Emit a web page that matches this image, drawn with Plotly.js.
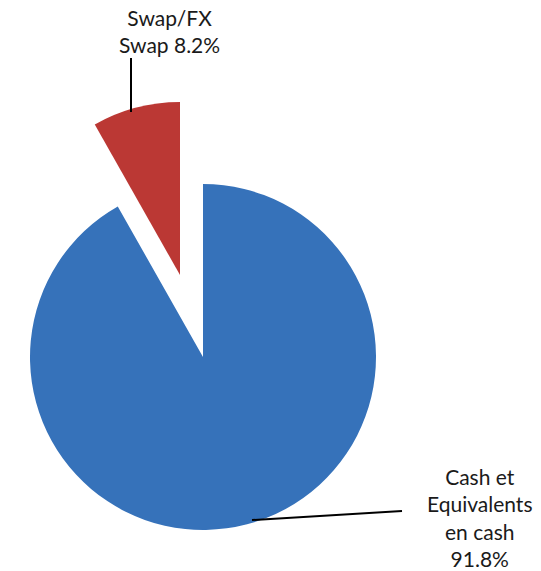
<!DOCTYPE html>
<html><head><meta charset="utf-8">
<script src="https://cdn.plot.ly/plotly-3.0.1.min.js"></script>
<style>html,body{margin:0;padding:0;background:#fff}#chart{width:541px;height:571px}</style>
</head><body><div id="chart"></div>
<script>
const categories = ["Cash et Equivalents en cash", "Swap/FX Swap"];
const values = [91.8, 8.2];
const labelLines = [["Cash et", "Equivalents", "en cash"], ["Swap/FX", "Swap"]];
const colors = ["#3672BA", "#BB3834"];

const W = 541, H = 571;
function dom(cx, cy, r) {
  return { x: [(cx - r) / W, (cx + r) / W], y: [(H - cy - r) / H, (H - cy + r) / H] };
}
const R = 173;
const base = {
  type: 'pie', labels: categories, values: values, sort: false,
  direction: 'clockwise', rotation: 0, textinfo: 'none',
  hoverinfo: 'label+percent', showlegend: false
};
const traces = [
  Object.assign({}, base, { domain: dom(203, 357, R), marker: { colors: [colors[0], 'rgba(0,0,0,0)'], line: { width: 0 } } }),
  Object.assign({}, base, { domain: dom(180, 275, R), marker: { colors: ['rgba(0,0,0,0)', colors[1]], line: { width: 0 } } })
];
const total = values.reduce((a, b) => a + b, 0);
const pct = values.map(v => (100 * v / total).toFixed(1) + '%');
const font = { family: 'Lato, "Open Sans", sans-serif', size: 21, color: '#1a1a1a' };
const layout = {
  width: W, height: H,
  margin: { l: 0, r: 0, t: 0, b: 0 },
  paper_bgcolor: '#fff',
  annotations: [
    { xref: 'paper', yref: 'paper', x: 169 / W, y: (H - 31) / H, xanchor: 'center', yanchor: 'middle',
      text: labelLines[1][0] + '<br>' + labelLines[1][1] + ' ' + pct[1], showarrow: false, font: font, align: 'center' },
    { xref: 'paper', yref: 'paper', x: 479 / W, y: (H - 517) / H, xanchor: 'center', yanchor: 'middle',
      text: labelLines[0].join('<br>') + '<br>' + pct[0], showarrow: false, font: font, align: 'center' }
  ],
  shapes: [
    { type: 'line', xref: 'paper', yref: 'paper', x0: 131 / W, x1: 131 / W, y0: (H - 58) / H, y1: (H - 112) / H, line: { color: '#000', width: 2 } },
    { type: 'line', xref: 'paper', yref: 'paper', x0: 252 / W, x1: 402 / W, y0: (H - 520) / H, y1: (H - 511) / H, line: { color: '#000', width: 2 } }
  ]
};
Plotly.newPlot('chart', traces, layout, { displayModeBar: false, staticPlot: true });
</script>
</body></html>
